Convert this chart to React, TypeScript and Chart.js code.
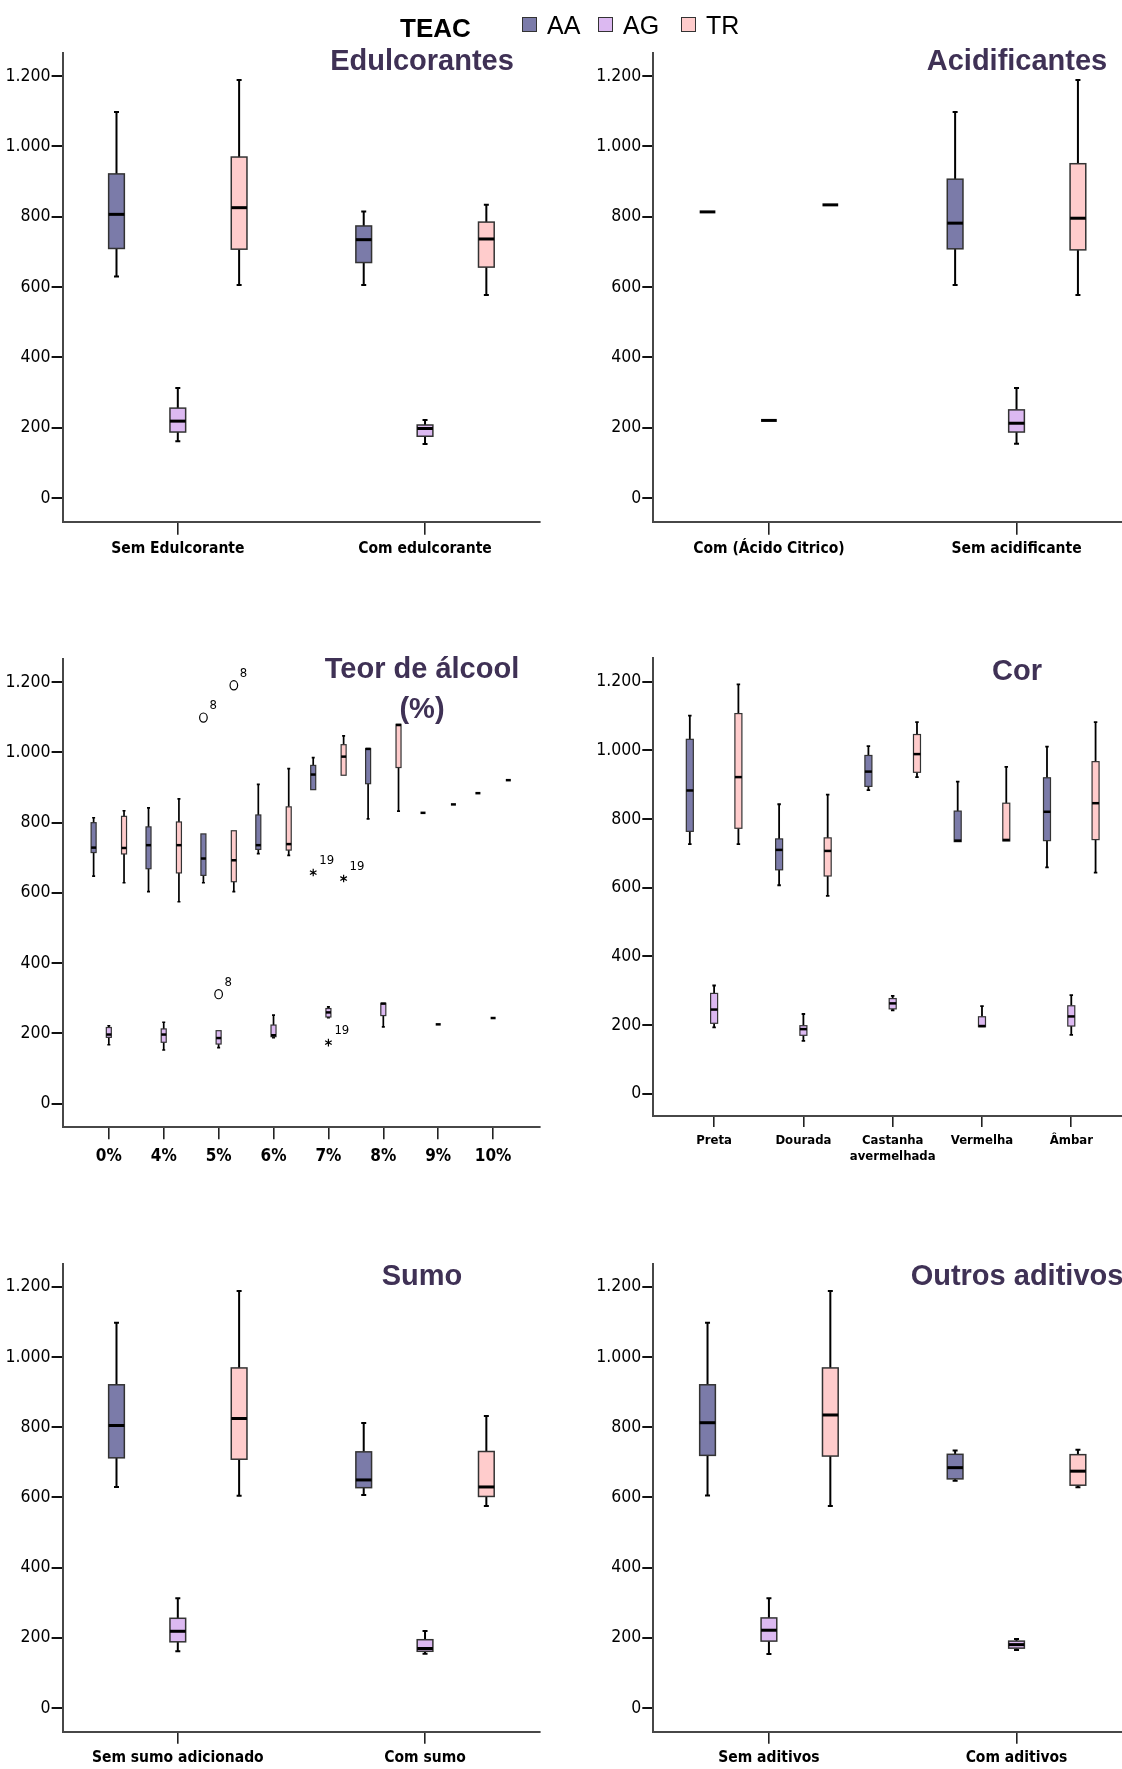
import React, { useEffect, useRef } from 'react';
import { Chart, registerables } from 'chart.js';

Chart.register(...registerables);

const NARROW = "'Liberation Sans Narrow', 'Arial Narrow', 'DejaVu Sans Condensed', sans-serif";
const SANS = "'Liberation Sans', Arial, Helvetica, sans-serif";

// ---------- DATA: each box = [min, q1, median, q3, max] ----------
const SERIES = ['AA', 'AG', 'TR'];
const SERIES_COLORS = ['#7b7ba9', '#dcb9f1', '#ffcccc'];
const Y_TICKS = [0, 200, 400, 600, 800, 1000, 1200];

const edulcCats = ['Sem Edulcorante', 'Com edulcorante'];
const edulcAA = [[630, 710, 807, 922, 1098], [606, 670, 735, 774, 815]];
const edulcAG = [[162, 188, 219, 256, 313], [154, 176, 198, 208, 222]];
const edulcTR = [[606, 708, 826, 970, 1189], [578, 657, 737, 785, 834]];

const acidCats = ['Com (Ácido Citrico)', 'Sem acidificante'];
const acidAA = [[814, 814, 814, 814, 814], [606, 709, 782, 907, 1098]];
const acidAG = [[221, 221, 221, 221, 221], [155, 188, 213, 251, 313]];
const acidTR = [[834, 834, 834, 834, 834], [578, 706, 796, 951, 1189]];

const teorCats = ['0%', '4%', '5%', '6%', '7%', '8%', '9%', '10%'];
const teorAA = [
  [648, 715, 729, 800, 814],
  [604, 669, 736, 788, 842],
  [629, 650, 698, 768, 768],
  [712, 724, 736, 822, 909],
  [894, 894, 937, 963, 985],
  [811, 911, 1010, 1011, 1011],
  [828, 828, 828, 828, 828],
  [884, 884, 884, 884, 884],
];
const teorAG = [
  [168, 189, 197, 217, 222],
  [153, 175, 197, 213, 232],
  [160, 170, 187, 208, 208],
  [188, 191, 195, 224, 252],
  [245, 247, 260, 271, 276],
  [219, 251, 285, 286, 286],
  [226, 226, 226, 226, 226],
  [244, 244, 244, 244, 244],
];
const teorTR = [
  [629, 711, 728, 818, 834],
  [575, 657, 736, 802, 868],
  [604, 632, 693, 777, 777],
  [707, 722, 739, 845, 954],
  [935, 935, 988, 1022, 1047],
  [833, 957, 1078, 1080, 1080],
  [852, 852, 852, 852, 852],
  [921, 921, 921, 921, 921],
];
// outliers: series index (0 AA, 1 AG, 2 TR), category index, value, case label, marker
const teorOutliers = [
  { series: 0, cat: 2, value: 1099, label: '8', mark: 'circle' },
  { series: 2, cat: 2, value: 1191, label: '8', mark: 'circle' },
  { series: 1, cat: 2, value: 312, label: '8', mark: 'circle' },
  { series: 0, cat: 4, value: 658, label: '19', mark: 'star' },
  { series: 2, cat: 4, value: 641, label: '19', mark: 'star' },
  { series: 1, cat: 4, value: 174, label: '19', mark: 'star' },
];

const corCats = ['Preta', 'Dourada', ['Castanha', 'avermelhada'], 'Vermelha', 'Âmbar'];
const corAA = [
  [727, 764, 883, 1032, 1101],
  [607, 652, 710, 742, 843],
  [884, 895, 938, 985, 1012],
  [734, 734, 737, 823, 909],
  [659, 737, 821, 920, 1011],
];
const corAG = [
  [193, 205, 245, 292, 315],
  [154, 170, 188, 198, 232],
  [243, 247, 263, 277, 285],
  [195, 195, 197, 224, 255],
  [171, 197, 225, 256, 287],
];
const corTR = [
  [727, 773, 922, 1107, 1192],
  [576, 634, 707, 745, 871],
  [922, 936, 989, 1046, 1082],
  [736, 736, 739, 846, 952],
  [644, 740, 846, 967, 1082],
];

const sumoCats = ['Sem sumo adicionado', 'Com sumo'];
const sumoAA = [[630, 713, 805, 921, 1098], [607, 628, 650, 730, 812]];
const sumoAG = [[162, 189, 219, 256, 313], [155, 162, 170, 195, 220]];
const sumoTR = [[605, 709, 825, 969, 1188], [576, 603, 630, 731, 832]];

const outrosCats = ['Sem aditivos', 'Com aditivos'];
const outrosAA = [[606, 720, 813, 921, 1098], [648, 653, 685, 723, 734]];
const outrosAG = [[154, 191, 222, 257, 313], [166, 171, 181, 191, 197]];
const outrosTR = [[576, 718, 835, 969, 1188], [629, 635, 675, 722, 736]];

// ---------- LAYOUT / STYLE ----------
const BIG = { boxW: 15.7, capW: 5, whiskerW: 2, medianW: 3, strokeW: 1.5, xFont: 15.5, xLine: 1.2, xTickLen: 13, xPad: 5 };

const PANELS: any[] = [
  {
    ...BIG, title: ['Edulcorantes'], titleX: 422, titleY: 62, cats: edulcCats, series: [edulcAA, edulcAG, edulcTR],
    left: 0, top: 0, width: 561, height: 606, axisX: 62.6, padRight: 21.5, areaTop: 53.3, areaBottom: 521.7,
    xMin: -0.466, xMax: 1.463, offset: 0.248, yMin: -67, yMax: 1265,
  },
  {
    ...BIG, title: ['Acidificantes'], titleX: 456, titleY: 62, cats: acidCats, series: [acidAA, acidAG, acidTR],
    left: 561, top: 0, width: 561, height: 606, axisX: 92.3, padRight: 0, areaTop: 53.3, areaBottom: 521.7,
    xMin: -0.467, xMax: 1.426, offset: 0.248, yMin: -67, yMax: 1265,
  },
  {
    boxW: 5, capW: 3, whiskerW: 1.7, medianW: 2.5, strokeW: 1.2, xFont: 17, xLine: 1.2, xTickLen: 12, xPad: 7,
    title: ['Teor de álcool', '(%)'], titleX: 422, titleY: 64, titleGap: 39.5, cats: teorCats, series: [teorAA, teorAG, teorTR],
    outliers: teorOutliers,
    left: 0, top: 606, width: 561, height: 605, axisX: 62.6, padRight: 21.5, areaTop: 53.3, areaBottom: 521.3,
    xMin: -0.842, xMax: 7.845, offset: 0.277, yMin: -67, yMax: 1265,
  },
  {
    boxW: 7, capW: 3.5, whiskerW: 1.8, medianW: 2.5, strokeW: 1.2, xFont: 13, xLine: 1.28, xTickLen: 11, xPad: 5,
    title: ['Cor'], titleX: 456, titleY: 66, cats: corCats, series: [corAA, corAG, corTR],
    left: 561, top: 606, width: 561, height: 605, axisX: 92.3, padRight: 0, areaTop: 52.3, areaBottom: 510,
    xMin: -0.681, xMax: 4.568, offset: 0.272, yMin: -65, yMax: 1268,
  },
  {
    ...BIG, xTickLen: 12, xPad: 5, title: ['Sumo'], titleX: 422, titleY: 66, cats: sumoCats, series: [sumoAA, sumoAG, sumoTR],
    left: 0, top: 1211, width: 561, height: 558, axisX: 62.6, padRight: 21.5, areaTop: 53, areaBottom: 520.7,
    xMin: -0.466, xMax: 1.463, offset: 0.248, yMin: -67, yMax: 1265,
  },
  {
    ...BIG, xTickLen: 12, xPad: 5, title: ['Outros aditivos'], titleX: 456, titleY: 66, cats: outrosCats, series: [outrosAA, outrosAG, outrosTR],
    left: 561, top: 1211, width: 561, height: 558, axisX: 92.3, padRight: 0, areaTop: 53, areaBottom: 520.7,
    xMin: -0.467, xMax: 1.426, offset: 0.248, yMin: -67, yMax: 1265,
  },
];

const OFFS = [-1, 0, 1];

function fmtY(v: number): string {
  if (v >= 1000) return Math.floor(v / 1000) + '.' + String(v % 1000).padStart(3, '0');
  return String(v);
}

const boxPlugin = {
  id: 'boxes',
  afterDatasetsDraw(chart: any, _args: any, opts: any) {
    const ctx = chart.ctx;
    const x = chart.scales.x;
    const y = chart.scales.y;
    const cfg = opts.cfg;
    const bw = cfg.boxW;
    ctx.save();
    chart.data.datasets.forEach((ds: any) => {
      ds.stats.forEach((st: number[], i: number) => {
        const [mn, q1, md, q3, mx] = st;
        const px = x.getPixelForValue(i + ds.offset);
        const yMn = y.getPixelForValue(mn);
        const yQ1 = y.getPixelForValue(q1);
        const yMd = y.getPixelForValue(md);
        const yQ3 = y.getPixelForValue(q3);
        const yMx = y.getPixelForValue(mx);
        ctx.strokeStyle = '#000';
        ctx.lineWidth = cfg.whiskerW;
        ctx.lineCap = 'butt';
        if (mx > q3) {
          ctx.beginPath();
          ctx.moveTo(px, yQ3); ctx.lineTo(px, yMx);
          ctx.moveTo(px - cfg.capW / 2, yMx); ctx.lineTo(px + cfg.capW / 2, yMx);
          ctx.stroke();
        }
        if (mn < q1) {
          ctx.beginPath();
          ctx.moveTo(px, yQ1); ctx.lineTo(px, yMn);
          ctx.moveTo(px - cfg.capW / 2, yMn); ctx.lineTo(px + cfg.capW / 2, yMn);
          ctx.stroke();
        }
        if (q3 > q1) {
          ctx.fillStyle = ds.color;
          ctx.fillRect(px - bw / 2, yQ3, bw, yQ1 - yQ3);
          ctx.strokeStyle = '#333';
          ctx.lineWidth = cfg.strokeW;
          ctx.strokeRect(px - bw / 2, yQ3, bw, yQ1 - yQ3);
        }
        ctx.strokeStyle = '#000';
        ctx.lineWidth = cfg.medianW;
        ctx.beginPath();
        ctx.moveTo(px - bw / 2, yMd); ctx.lineTo(px + bw / 2, yMd);
        ctx.stroke();
      });
    });
    // outliers
    (cfg.outliers || []).forEach((o: any) => {
      const ds = chart.data.datasets[o.series];
      const px = x.getPixelForValue(o.cat + ds.offset);
      const py = y.getPixelForValue(o.value);
      ctx.strokeStyle = '#000';
      ctx.lineWidth = 1.2;
      ctx.beginPath();
      if (o.mark === 'circle') {
        ctx.ellipse(px, py, 3.8, 4.6, 0, 0, Math.PI * 2);
      } else {
        const r = 3.8;
        for (let k = 0; k < 3; k++) {
          const a = Math.PI / 2 + (k * Math.PI) / 3;
          ctx.moveTo(px - r * Math.cos(a), py - r * Math.sin(a));
          ctx.lineTo(px + r * Math.cos(a), py + r * Math.sin(a));
        }
      }
      ctx.stroke();
      ctx.fillStyle = '#000';
      ctx.font = `13px ${NARROW}`;
      ctx.textAlign = 'left';
      ctx.textBaseline = 'middle';
      ctx.fillText(o.label, px + 6, py - 11.5);
    });
    // panel title
    ctx.fillStyle = '#3f3155';
    ctx.font = `bold 29px ${SANS}`;
    ctx.textAlign = 'center';
    ctx.textBaseline = 'middle';
    cfg.title.forEach((t: string, k: number) => {
      ctx.fillText(t, cfg.titleX, cfg.titleY + k * (cfg.titleGap || 0));
    });
    ctx.restore();
  },
};

function buildConfig(cfg: any): any {
  const datasets = cfg.series.map((stats: number[][], s: number) => ({
    type: 'scatter',
    label: SERIES[s],
    data: stats.map((st, i) => ({ x: i + OFFS[s] * cfg.offset, y: st[2] })),
    pointRadius: 0,
    pointHoverRadius: 0,
    showLine: false,
    stats,
    offset: OFFS[s] * cfg.offset,
    color: SERIES_COLORS[s],
  }));
  return {
    type: 'scatter',
    data: { datasets },
    plugins: [boxPlugin],
    options: {
      responsive: false,
      animation: false,
      devicePixelRatio: 1,
      events: [],
      layout: { padding: { top: cfg.areaTop, left: 0, right: cfg.padRight, bottom: 0 } },
      plugins: {
        legend: { display: false },
        tooltip: { enabled: false },
        title: { display: false },
        boxes: { cfg },
      },
      scales: {
        x: {
          type: 'linear',
          min: cfg.xMin,
          max: cfg.xMax,
          afterBuildTicks: (sc: any) => {
            sc.ticks = cfg.cats.map((_: any, i: number) => ({ value: i }));
          },
          afterFit: (sc: any) => {
            sc.height = cfg.height - cfg.areaBottom;
          },
          ticks: {
            autoSkip: false,
            maxRotation: 0,
            minRotation: 0,
            padding: cfg.xPad,
            color: '#000',
            font: { family: NARROW, size: cfg.xFont, weight: 'bold', lineHeight: cfg.xLine },
            callback: (_v: any, i: number) => cfg.cats[i],
          },
          grid: { drawOnChartArea: false, drawTicks: true, tickLength: cfg.xTickLen, color: '#222', lineWidth: 1.6 },
          border: { display: true, color: '#474747', width: 2 },
        },
        y: {
          type: 'linear',
          min: cfg.yMin,
          max: cfg.yMax,
          afterBuildTicks: (sc: any) => {
            sc.ticks = Y_TICKS.map((v) => ({ value: v }));
          },
          afterFit: (sc: any) => {
            sc.width = cfg.axisX;
          },
          ticks: {
            padding: 1,
            color: '#000',
            font: { family: NARROW, size: 17.5 },
            callback: (v: any) => fmtY(Number(v)),
          },
          grid: { drawOnChartArea: false, drawTicks: true, tickLength: 11, color: '#111', lineWidth: 2 },
          border: { display: true, color: '#474747', width: 2 },
        },
      },
    },
  };
}

function Panel({ cfg }: { cfg: any }) {
  const ref = useRef<HTMLCanvasElement>(null);
  useEffect(() => {
    const chart = new Chart(ref.current as HTMLCanvasElement, buildConfig(cfg));
    return () => chart.destroy();
  }, [cfg]);
  return (
    <canvas
      ref={ref}
      width={cfg.width}
      height={cfg.height}
      style={{ position: 'absolute', left: cfg.left, top: cfg.top, width: cfg.width, height: cfg.height }}
    />
  );
}

const LEGEND_POS = [
  { sq: 522, tx: 547 },
  { sq: 598, tx: 623 },
  { sq: 681, tx: 706 },
];

export default function App() {
  return (
    <div style={{ position: 'absolute', left: 0, top: 0, width: 1122, height: 1769, background: '#fff', overflow: 'hidden' }}>
      {PANELS.map((p, i) => (
        <Panel key={i} cfg={p} />
      ))}
      <div
        style={{
          position: 'absolute', left: 400, top: 15, fontFamily: SANS, fontWeight: 'bold',
          fontSize: 26, lineHeight: '26px', color: '#000', whiteSpace: 'nowrap',
        }}
      >
        TEAC
      </div>
      {SERIES.map((s, i) => (
        <React.Fragment key={s}>
          <div
            style={{
              position: 'absolute', left: LEGEND_POS[i].sq, top: 17, width: 13, height: 13,
              background: SERIES_COLORS[i], border: '1.5px solid #333',
            }}
          />
          <div
            style={{
              position: 'absolute', left: LEGEND_POS[i].tx, top: 13, fontFamily: SANS,
              fontSize: 25, lineHeight: '25px', color: '#000', whiteSpace: 'nowrap',
            }}
          >
            {s}
          </div>
        </React.Fragment>
      ))}
    </div>
  );
}
